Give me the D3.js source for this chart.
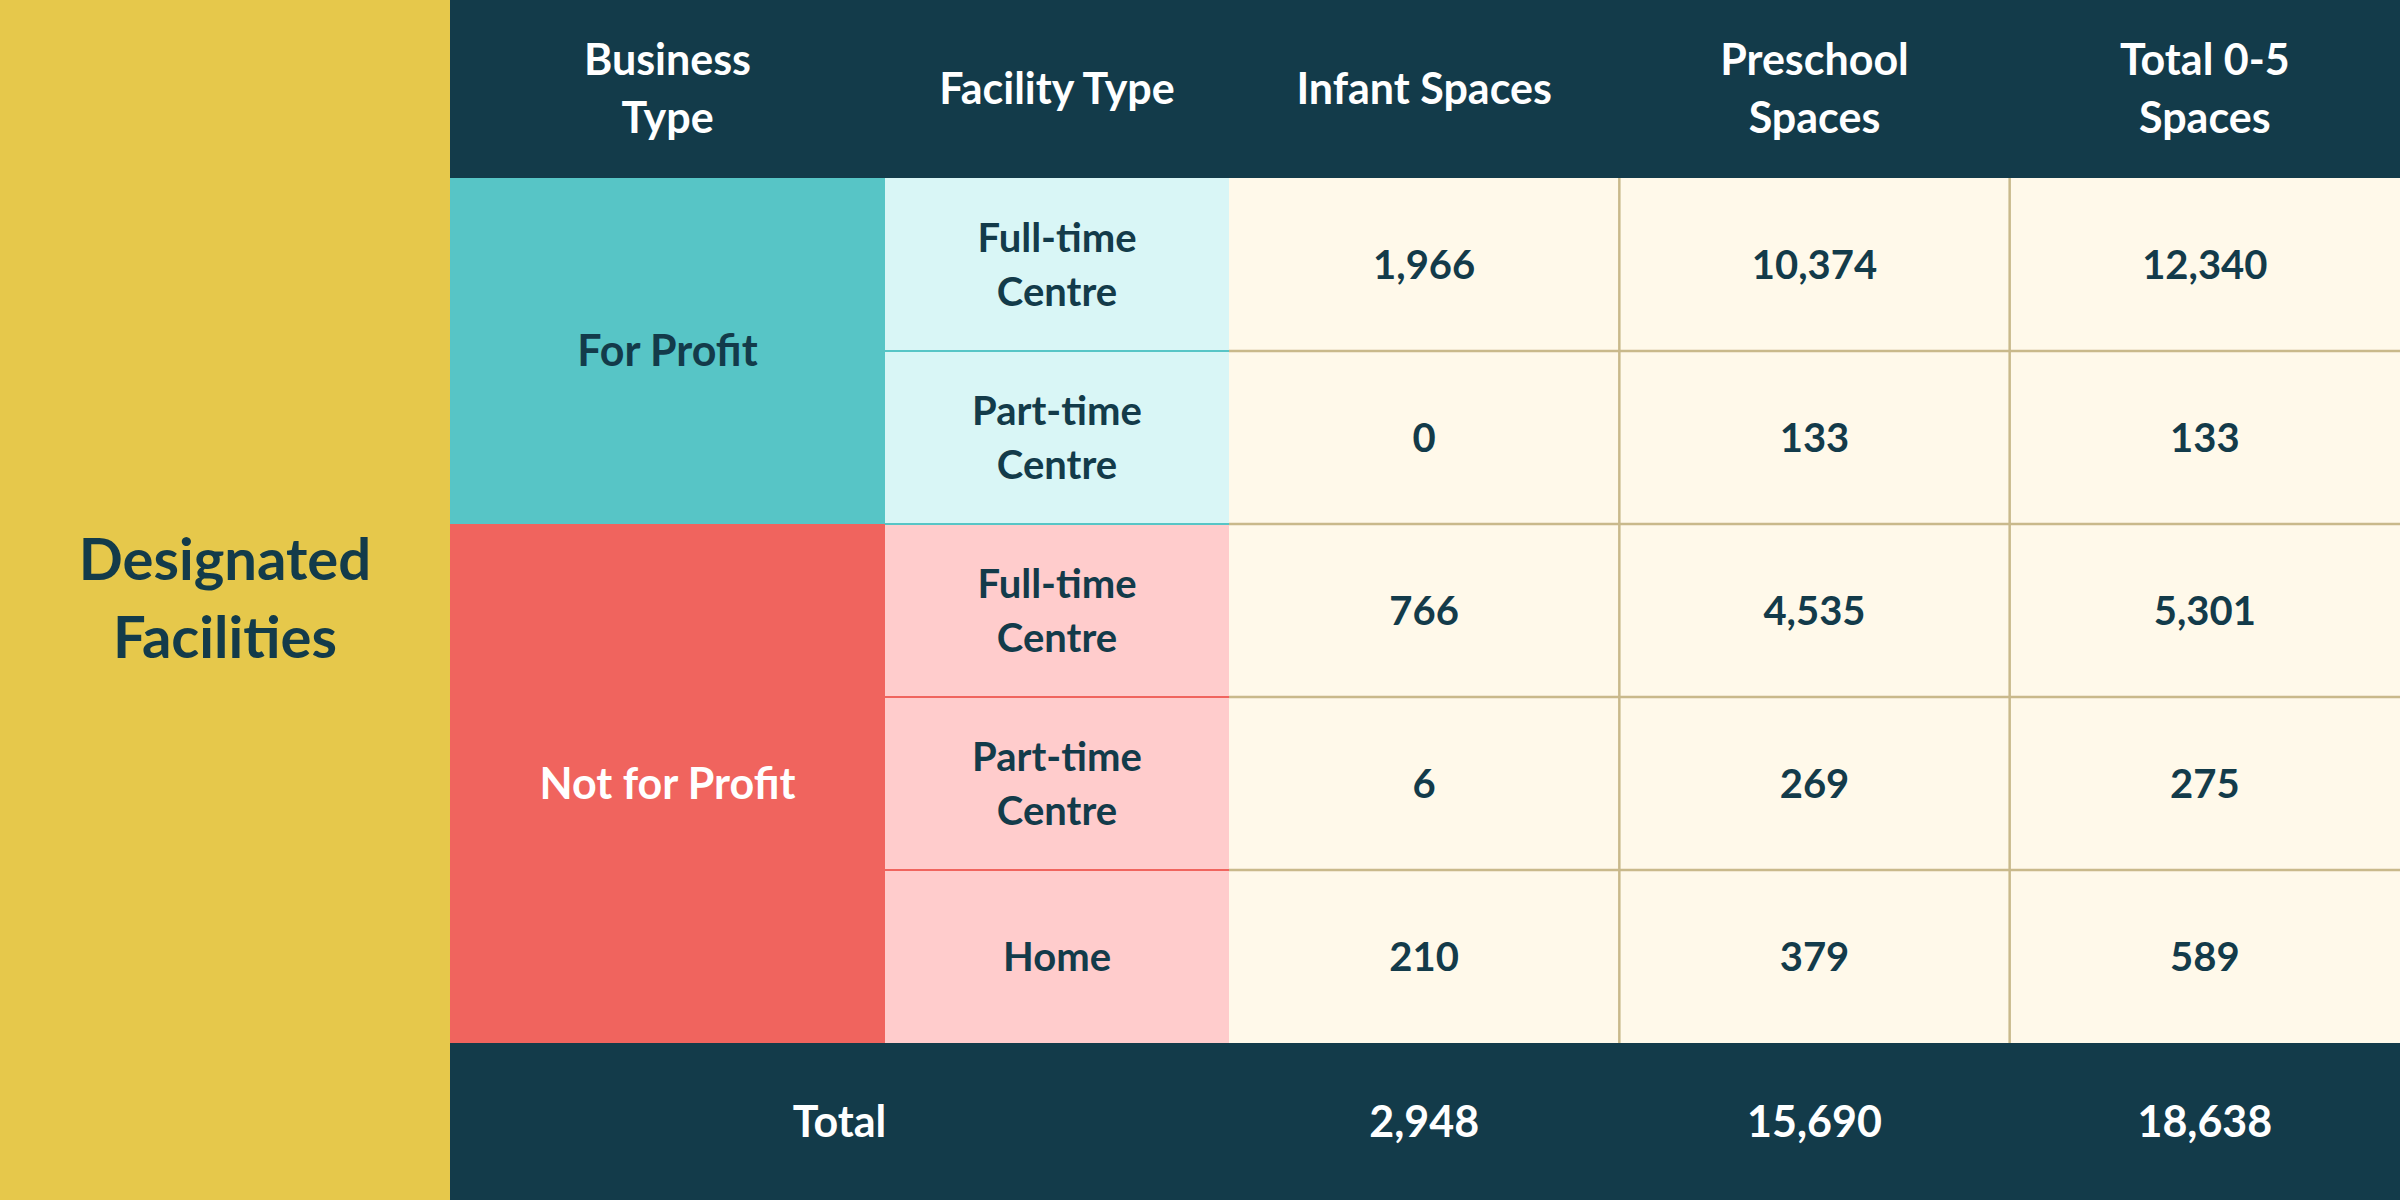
<!DOCTYPE html>
<html><head><meta charset="utf-8">
<script src="https://cdn.jsdelivr.net/npm/d3@7"></script>
<style>body{margin:0;background:#fff}svg{display:block}</style>
</head><body>
<div id="table"></div>
<script>
const W = 2400, H = 1200;
const dark = "#133b4a", font = "Lato, 'Open Sans', sans-serif";

const rows = [
  { business: "For Profit", facility: "Full-time\nCentre", infant: 1966, preschool: 10374, total: 12340 },
  { business: "For Profit", facility: "Part-time\nCentre", infant: 0, preschool: 133, total: 133 },
  { business: "Not for Profit", facility: "Full-time\nCentre", infant: 766, preschool: 4535, total: 5301 },
  { business: "Not for Profit", facility: "Part-time\nCentre", infant: 6, preschool: 269, total: 275 },
  { business: "Not for Profit", facility: "Home", infant: 210, preschool: 379, total: 589 }
];
const totals = { infant: 2948, preschool: 15690, total: 18638 };
const colors = {
  "For Profit": { main: "#57c5c6", light: "#d9f6f6", line: "#57c5c6", text: dark },
  "Not for Profit": { main: "#f0645e", light: "#ffcccc", line: "#f0645e", text: "#fff" }
};
const numCols = [
  { key: "infant", label: "Infant Spaces" },
  { key: "preschool", label: "Preschool\nSpaces" },
  { key: "total", label: "Total 0-5\nSpaces" }
];

const x0 = 450, xBiz = 450, xFac = 885, xNum = 1229;
const headH = 178, footTop = 1043;
const y = d3.scaleBand().domain(d3.range(rows.length)).range([headH, footTop]);
const xn = d3.scaleBand().domain(numCols.map(d => d.key)).range([xNum, W]);
const fmt = d3.format(",");

const svg = d3.select("#table").append("svg").attr("width", W).attr("height", H)
  .style("font-family", font).style("font-weight", 700);

function label(g, x, yc, txt, size, fill) {
  const lines = txt.split("\n");
  const t = g.append("text").attr("x", x).attr("text-anchor", "middle")
    .attr("font-size", size).attr("fill", fill);
  lines.forEach((l, i) => t.append("tspan").attr("x", x)
    .attr("y", yc + (i - (lines.length - 1) / 2) * size * 1.35).attr("dy", "0.35em").text(l));
}

// left panel
svg.append("rect").attr("width", x0).attr("height", H).attr("fill", "#e6c84b");
label(svg, x0 / 2, H / 2 - 1, "Designated\nFacilities", 58, dark);

// header + footer
svg.append("rect").attr("x", x0).attr("width", W - x0).attr("height", headH).attr("fill", dark);
svg.append("rect").attr("x", x0).attr("y", footTop).attr("width", W - x0).attr("height", H - footTop).attr("fill", dark);
label(svg, (xBiz + xFac) / 2, headH / 2, "Business\nType", 43, "#fff");
label(svg, (xFac + xNum) / 2, headH / 2, "Facility Type", 43, "#fff");
numCols.forEach(c => label(svg, xn(c.key) + xn.bandwidth() / 2, headH / 2, c.label, 43, "#fff"));

// business groups
const groups = d3.groups(rows.map((r, i) => ({ ...r, i })), d => d.business);
groups.forEach(([name, rs]) => {
  const top = y(rs[0].i), bot = y(rs[rs.length - 1].i) + y.bandwidth();
  svg.append("rect").attr("x", xBiz).attr("y", top).attr("width", xFac - xBiz).attr("height", bot - top)
    .attr("fill", colors[name].main);
  label(svg, (xBiz + xFac) / 2, (top + bot) / 2, name, 43, colors[name].text);
});

// rows
const rg = svg.selectAll("g.row").data(rows).join("g").attr("class", "row");
rg.append("rect").attr("x", xFac).attr("y", (d, i) => y(i)).attr("width", xNum - xFac)
  .attr("height", y.bandwidth()).attr("fill", d => colors[d.business].light);
rg.append("rect").attr("x", xNum).attr("y", (d, i) => y(i)).attr("width", W - xNum)
  .attr("height", y.bandwidth()).attr("fill", "#fff9ea");
rg.each(function (d, i) {
  const g = d3.select(this), yc = y(i) + y.bandwidth() / 2;
  label(g, (xFac + xNum) / 2, yc, d.facility, 40, dark);
  numCols.forEach(c => label(g, xn(c.key) + xn.bandwidth() / 2, yc, fmt(d[c.key]), 40, dark));
});

// grid lines
rows.forEach((d, i) => {
  if (i === 0) return;
  svg.append("line").attr("x1", xFac).attr("x2", xNum).attr("y1", y(i)).attr("y2", y(i))
    .attr("stroke", colors[rows[i - 1].business].line).attr("stroke-width", 2);
  svg.append("line").attr("x1", xNum).attr("x2", W).attr("y1", y(i)).attr("y2", y(i))
    .attr("stroke", "#c9b98b").attr("stroke-width", 2.5);
});
numCols.slice(1).forEach(c => svg.append("line").attr("x1", xn(c.key)).attr("x2", xn(c.key))
  .attr("y1", headH).attr("y2", footTop).attr("stroke", "#c9b98b").attr("stroke-width", 2.5));

// totals
const fy = (footTop + H) / 2;
label(svg, (xBiz + xNum) / 2, fy, "Total", 43, "#fff");
numCols.forEach(c => label(svg, xn(c.key) + xn.bandwidth() / 2, fy, fmt(totals[c.key]), 43, "#fff"));
</script>
</body></html>
